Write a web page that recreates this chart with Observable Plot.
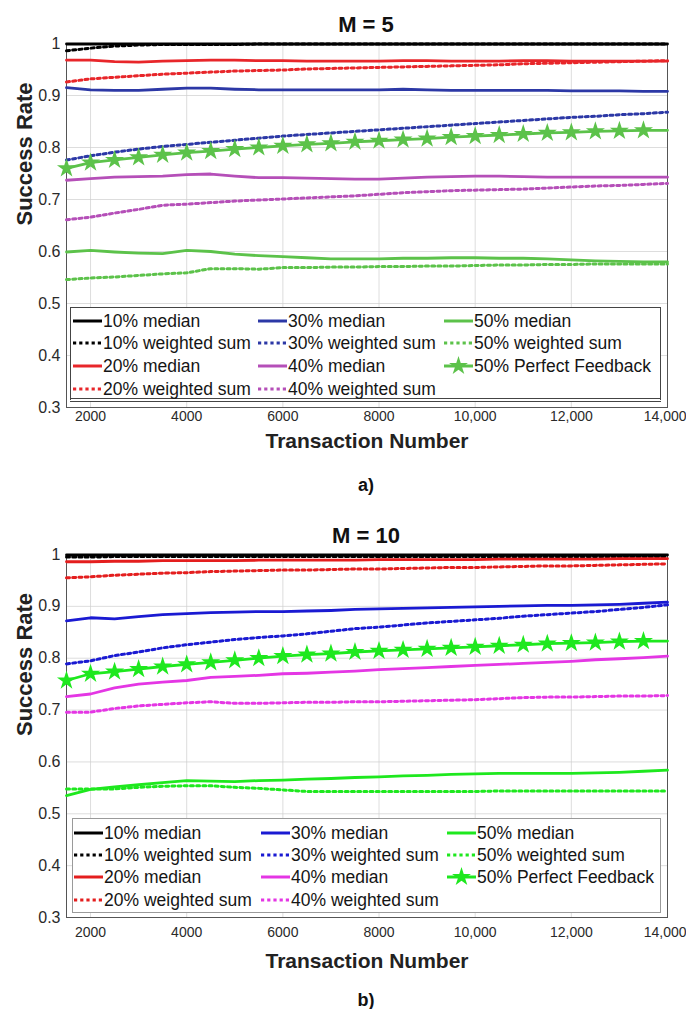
<!DOCTYPE html>
<html>
<head>
<meta charset="utf-8">
<script src="https://cdn.jsdelivr.net/npm/d3@7"></script>
<script src="https://cdn.jsdelivr.net/npm/@observablehq/plot@0.6"></script>
<style>
  body { margin: 0; background: #fff; font-family: "Liberation Sans", Arial, sans-serif; }
  #page { position: relative; width: 686px; height: 1009px; overflow: hidden; background: #fff; }
  .abs { position: absolute; }
  .title { left: 0; width: 732px; text-align: center; font-weight: bold; font-size: 22px; color: #111; line-height: 26px; }
  .cap { left: 0; width: 732px; text-align: center; font-weight: bold; font-size: 18px; color: #111; line-height: 22px; }
  .leg { background: #fff; box-sizing: border-box; }
  .item { display: flex; align-items: center; height: 22px; font-size: 17.5px; color: #151515; white-space: nowrap; }
  .item svg { flex: none; }
</style>
</head>
<body>
<div id="page"></div>
<script>
// ---------------- data ----------------
const transactions = [1500,2000,2500,3000,3500,4000,4500,5000,5500,6000,6500,7000,7500,8000,8500,9000,9500,10000,10500,11000,11500,12000,12500,13000,13500,14000];
const xTicks = [2000,4000,6000,8000,10000,12000,14000];
const yTicks = [0.3,0.4,0.5,0.6,0.7,0.8,0.9,1];
const seriesNames = ["10% median","10% weighted sum","20% median","20% weighted sum","30% median","30% weighted sum","40% median","40% weighted sum","50% median","50% weighted sum","50% Perfect Feedback"];

// M = 5
const m5_10med = [0.999,0.999,0.999,0.999,0.999,0.999,0.999,0.999,0.999,0.999,0.999,0.999,0.999,0.999,0.999,0.999,0.999,0.999,0.999,0.999,0.999,0.999,0.999,0.999,0.999,0.999];
const m5_10ws  = [0.986,0.991,0.995,0.997,0.998,0.998,0.998,0.998,0.999,0.999,0.999,0.999,0.999,0.999,0.999,0.999,0.999,0.999,0.999,0.999,0.999,0.999,0.999,0.999,0.999,0.999];
const m5_20med = [0.968,0.968,0.965,0.964,0.966,0.967,0.968,0.968,0.967,0.967,0.966,0.966,0.966,0.966,0.967,0.967,0.966,0.966,0.966,0.967,0.967,0.966,0.966,0.966,0.966,0.966];
const m5_20ws  = [0.926,0.932,0.935,0.938,0.941,0.943,0.945,0.947,0.948,0.949,0.951,0.952,0.953,0.954,0.955,0.956,0.957,0.958,0.959,0.961,0.962,0.963,0.964,0.965,0.966,0.967];
const m5_30med = [0.915,0.911,0.910,0.910,0.912,0.914,0.914,0.912,0.911,0.911,0.911,0.911,0.911,0.911,0.912,0.911,0.910,0.910,0.910,0.910,0.910,0.909,0.909,0.909,0.908,0.908];
const m5_30ws  = [0.776,0.784,0.791,0.797,0.802,0.806,0.810,0.814,0.818,0.822,0.825,0.828,0.831,0.834,0.837,0.840,0.843,0.846,0.849,0.852,0.855,0.858,0.860,0.863,0.865,0.868];
const m5_40med = [0.737,0.740,0.743,0.744,0.745,0.748,0.749,0.745,0.742,0.742,0.741,0.740,0.739,0.739,0.741,0.743,0.744,0.745,0.745,0.744,0.743,0.743,0.743,0.743,0.743,0.743];
const m5_40ws  = [0.661,0.666,0.674,0.681,0.689,0.691,0.694,0.697,0.699,0.701,0.703,0.705,0.707,0.710,0.713,0.715,0.717,0.718,0.719,0.720,0.722,0.724,0.726,0.727,0.729,0.731];
const m5_50med = [0.599,0.602,0.599,0.597,0.596,0.602,0.600,0.595,0.592,0.590,0.588,0.586,0.586,0.586,0.587,0.587,0.588,0.588,0.587,0.587,0.586,0.584,0.582,0.581,0.580,0.580];
const m5_50ws  = [0.546,0.549,0.551,0.554,0.557,0.559,0.567,0.567,0.566,0.569,0.569,0.570,0.570,0.571,0.571,0.572,0.572,0.573,0.574,0.574,0.575,0.575,0.576,0.576,0.576,0.576];
const m5_50pf  = [0.760,0.771,0.776,0.781,0.786,0.790,0.793,0.797,0.800,0.803,0.806,0.808,0.811,0.813,0.815,0.817,0.820,0.822,0.824,0.826,0.828,0.829,0.831,0.832,0.833,0.833];

// M = 10
const m10_10med = [0.999,0.999,0.999,0.999,0.999,0.999,0.999,0.999,0.999,0.999,0.999,0.999,0.999,0.999,0.999,0.999,0.999,0.999,0.999,0.999,0.999,0.999,0.999,0.999,0.999,0.999];
const m10_10ws  = [0.995,0.995,0.996,0.996,0.996,0.996,0.996,0.996,0.996,0.996,0.996,0.996,0.996,0.996,0.996,0.996,0.996,0.996,0.996,0.996,0.996,0.996,0.996,0.996,0.996,0.996];
const m10_20med = [0.986,0.986,0.987,0.987,0.988,0.988,0.988,0.988,0.989,0.989,0.989,0.989,0.989,0.990,0.990,0.990,0.990,0.990,0.991,0.991,0.991,0.991,0.991,0.992,0.992,0.992];
const m10_20ws  = [0.955,0.957,0.960,0.962,0.964,0.965,0.967,0.968,0.969,0.970,0.970,0.971,0.972,0.972,0.973,0.974,0.975,0.975,0.976,0.977,0.978,0.978,0.979,0.980,0.981,0.982];
const m10_30med = [0.872,0.878,0.876,0.880,0.884,0.886,0.888,0.889,0.890,0.890,0.891,0.892,0.894,0.895,0.896,0.897,0.898,0.899,0.900,0.901,0.902,0.902,0.903,0.904,0.906,0.908];
const m10_30ws  = [0.789,0.795,0.805,0.812,0.820,0.826,0.831,0.836,0.840,0.843,0.847,0.852,0.857,0.860,0.864,0.868,0.871,0.874,0.877,0.881,0.884,0.887,0.890,0.894,0.898,0.903];
const m10_40med = [0.726,0.731,0.743,0.750,0.754,0.757,0.763,0.765,0.767,0.770,0.771,0.773,0.775,0.778,0.780,0.782,0.784,0.786,0.788,0.790,0.792,0.794,0.797,0.799,0.801,0.804];
const m10_40ws  = [0.696,0.696,0.703,0.708,0.711,0.714,0.716,0.713,0.713,0.714,0.715,0.715,0.716,0.716,0.717,0.718,0.719,0.720,0.722,0.724,0.725,0.725,0.726,0.727,0.727,0.728];
const m10_50med = [0.535,0.547,0.552,0.556,0.560,0.564,0.563,0.562,0.564,0.565,0.567,0.568,0.570,0.571,0.573,0.574,0.576,0.577,0.578,0.578,0.578,0.578,0.579,0.580,0.582,0.584];
const m10_50ws  = [0.548,0.548,0.548,0.551,0.553,0.554,0.554,0.551,0.549,0.546,0.543,0.543,0.543,0.543,0.543,0.543,0.543,0.543,0.544,0.544,0.544,0.544,0.544,0.544,0.544,0.544];
const m10_50pf  = [0.757,0.770,0.774,0.779,0.784,0.788,0.792,0.796,0.800,0.804,0.807,0.809,0.812,0.814,0.816,0.818,0.820,0.822,0.824,0.826,0.828,0.829,0.830,0.832,0.833,0.833];

// ---------------- styles ----------------
const colorsA = ["#000000","#000000","#e8262a","#e8262a","#2c38a6","#2c38a6","#b54fb8","#b54fb8","#5cc24a","#5cc24a","#5cc24a"];
const colorsB = ["#000000","#000000","#e41e1e","#e41e1e","#1a1ad2","#1a1ad2","#e436e4","#e436e4","#1ee81e","#1ee81e","#1ee81e"];
const dotted = [false,true,false,true,false,true,false,true,false,true,false];

const fmtX = d => d >= 10000 ? d3.format(",")(d) : String(d);
const fmtY = d => d === 1 ? "1" : d.toFixed(1);

function buildRows(valueLists) {
  return valueLists.flatMap((vals, i) => vals.map((v, j) => ({x: transactions[j], y: v, s: seriesNames[i], k: i})));
}

function makeChart(valueLists, colors, opts) {
  const rows = buildRows(valueLists);
  const solid = rows.filter(d => !dotted[d.k]);
  const dots = rows.filter(d => dotted[d.k]);
  const stars = rows.filter(d => d.k === 10 && d.x <= 13500);
  const color = {domain: seriesNames, range: colors};
  const lastTick = xTicks.slice(-1);
  const innerTicks = xTicks.slice(0, -1);
  return Plot.plot({
    width: 686,
    height: opts.height,
    marginLeft: 66,
    marginRight: 19,
    marginTop: opts.marginTop,
    marginBottom: opts.marginBottom,
    x: {domain: [1500, 14000]},
    y: {domain: [0.3, 1]},
    color,
    style: {fontFamily: "'Liberation Sans', Arial, sans-serif", color: "#2a2a2a", background: "transparent", overflow: "visible"},
    marks: [
      Plot.gridX(xTicks, {stroke: "#cfcfcf", strokeOpacity: 0.7}),
      Plot.gridY(yTicks, {stroke: "#cfcfcf", strokeOpacity: 0.7}),
      Plot.axisX(innerTicks, {tickSize: 0, tickPadding: opts.xPad, tickFormat: fmtX, label: null, fontSize: 14}),
      Plot.axisX(lastTick, {tickSize: 0, tickPadding: opts.xPad, tickFormat: fmtX, label: null, fontSize: 14, textAnchor: "end", dx: 19}),
      Plot.axisY(yTicks, {tickSize: 0, tickPadding: 6, tickFormat: fmtY, label: null, fontSize: 16}),
      Plot.frame({stroke: "#555", strokeWidth: 1}),
      Plot.line(dots, {x: "x", y: "y", z: "s", stroke: "s", strokeWidth: 3, strokeDasharray: "3,3.2"}),
      Plot.line(solid, {x: "x", y: "y", z: "s", stroke: "s", strokeWidth: 2.8, curve: "linear"}),
      Plot.dot(stars, {x: "x", y: "y", symbol: "star", r: 6, fill: "s", stroke: "none"}),
      Plot.text(["Success Rate"], {frameAnchor: "left", dx: -42, rotate: -90, fontSize: 22, fontWeight: "bold", fill: "#222"}),
      Plot.text(["Transaction Number"], {frameAnchor: "bottom", dy: opts.xLabelDy, fontSize: 21, fontWeight: "bold", fill: "#222"})
    ]
  });
}

function sample(color, isDotted, isStar) {
  const ns = "http://www.w3.org/2000/svg";
  const svg = document.createElementNS(ns, "svg");
  svg.setAttribute("width", 29); svg.setAttribute("height", 20);
  const line = document.createElementNS(ns, "line");
  line.setAttribute("x1", 0); line.setAttribute("x2", 29);
  line.setAttribute("y1", 10); line.setAttribute("y2", 10);
  line.setAttribute("stroke", color); line.setAttribute("stroke-width", 3);
  if (isDotted) line.setAttribute("stroke-dasharray", "3.2,3");
  svg.appendChild(line);
  if (isStar) {
    const p = document.createElementNS(ns, "path");
    p.setAttribute("d", d3.symbol(d3.symbolStar, 110)());
    p.setAttribute("transform", "translate(14.5,10)");
    p.setAttribute("fill", color);
    svg.appendChild(p);
  }
  return svg;
}

function legend(page, colors, box, colX, rowY) {
  const b = document.createElement("div");
  b.className = "abs leg";
  Object.assign(b.style, box);
  page.appendChild(b);
  const order = [[0,1,2,3],[4,5,6,7],[8,9,10]];
  order.forEach((col, ci) => col.forEach((k, ri) => {
    const it = document.createElement("div");
    it.className = "abs item";
    it.style.left = colX[ci] + "px";
    it.style.top = (rowY[ri] - 11) + "px";
    it.appendChild(sample(colors[k], dotted[k], k === 10));
    const t = document.createElement("span");
    t.textContent = seriesNames[k];
    t.style.marginLeft = "1px";
    it.appendChild(t);
    page.appendChild(it);
  }));
}

function addText(page, cls, text, top) {
  const d = document.createElement("div");
  d.className = "abs " + cls;
  d.textContent = text;
  d.style.top = top + "px";
  page.appendChild(d);
}

const page = document.getElementById("page");

// chart a
addText(page, "title", "M = 5", 12);
const a = makeChart([m5_10med,m5_10ws,m5_20med,m5_20ws,m5_30med,m5_30ws,m5_40med,m5_40ws,m5_50med,m5_50ws,m5_50pf], colorsA,
  {height: 437, marginTop: 13, marginBottom: 60, xPad: 4, xLabelDy: 40});
const wa = document.createElement("div"); wa.className = "abs"; wa.style.left = "0px"; wa.style.top = "30px";
wa.appendChild(a); page.appendChild(wa);
legend(page, colorsA,
  {left: "70px", top: "307px", width: "591px", height: "95px", border: "1px solid #444", borderBottom: "4px double #444"},
  [73, 258, 444], [321, 343, 366, 389]);
addText(page, "cap", "a)", 474);

// chart b
addText(page, "title", "M = 10", 523);
const b = makeChart([m10_10med,m10_10ws,m10_20med,m10_20ws,m10_30med,m10_30ws,m10_40med,m10_40ws,m10_50med,m10_50ws,m10_50pf], colorsB,
  {height: 435, marginTop: 12, marginBottom: 60, xPad: 10, xLabelDy: 50});
const wb = document.createElement("div"); wb.className = "abs"; wb.style.left = "0px"; wb.style.top = "542px";
wb.appendChild(b); page.appendChild(wb);
legend(page, colorsB,
  {left: "72px", top: "818px", width: "589px", height: "95px", border: "1px solid #9a9a9a"},
  [74, 261, 447], [833, 855, 877, 900]);
addText(page, "cap", "b)", 989);
</script>
</body>
</html>
